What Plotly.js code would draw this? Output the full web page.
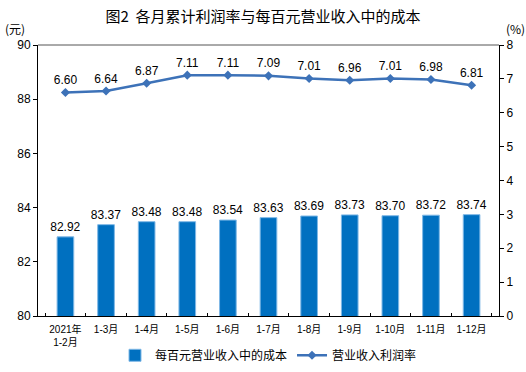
<!DOCTYPE html>
<html>
<head>
<meta charset="utf-8">
<script src="https://cdn.plot.ly/plotly-3.0.1.min.js"></script>
<style>
html,body{margin:0;padding:0;background:#fff;}
#chart{width:526px;height:372px;}
</style>
</head>
<body>
<div id="chart"></div>
<script>
const categories = ["2021年<br>1-2月","1-3月","1-4月","1-5月","1-6月","1-7月","1-8月","1-9月","1-10月","1-11月","1-12月"];
const costPerHundred = [82.92,83.37,83.48,83.48,83.54,83.63,83.69,83.73,83.70,83.72,83.74];
const profitRate = [6.60,6.64,6.87,7.11,7.11,7.09,7.01,6.96,7.01,6.98,6.81];
const leftTicks = [80,82,84,86,88,90];
const rightTicks = [0,1,2,3,4,5,6,7,8];

const FONT = "'Liberation Sans', 'Noto Sans CJK SC', sans-serif";
const CJK = "'Noto Sans CJK SC', sans-serif";

const traces = [
  {
    type: 'bar',
    name: '每百元营业收入中的成本',
    x: categories,
    y: costPerHundred,
    width: 0.41,
    marker: {color: '#0070C0', line: {color: '#7fb8e6', width: 1}},
    text: costPerHundred.map(v => v.toFixed(2)),
    textposition: 'outside',
    constraintext: 'none',
    cliponaxis: false,
    textfont: {size: 12, color: '#000', family: FONT},
    yaxis: 'y',
    hoverinfo: 'skip'
  },
  {
    type: 'scatter',
    mode: 'lines+markers+text',
    name: '营业收入利润率',
    x: categories,
    y: profitRate,
    line: {color: '#3d72b8', width: 2.5},
    marker: {symbol: 'diamond', size: 7, color: '#3d72b8'},
    text: profitRate.map(v => v.toFixed(2)),
    textposition: 'top center',
    textfont: {size: 12, color: '#000', family: FONT},
    cliponaxis: false,
    yaxis: 'y2',
    hoverinfo: 'skip'
  }
];

const layout = {
  width: 526,
  height: 372,
  margin: {l: 38, r: 27, t: 45, b: 56, autoexpand: false},
  paper_bgcolor: '#fff',
  plot_bgcolor: '#fff',
  font: {family: FONT, size: 12, color: '#000'},
  title: {
    text: '图2  各月累计利润率与每百元营业收入中的成本',
    font: {family: CJK, size: 15, color: '#000'},
    x: 0.5, xanchor: 'center', y: 0.955, yanchor: 'middle'
  },
  showlegend: true,
  legend: {
    orientation: 'h',
    x: 0.5, xanchor: 'center',
    y: -0.145, yanchor: 'middle',
    font: {family: CJK, size: 12},
    traceorder: 'normal',
    itemwidth: 30,
    tracegroupgap: 0
  },
  bargap: 0.59,
  xaxis: {
    type: 'category',
    automargin: false,
    showline: true,
    linecolor: '#000',
    linewidth: 1,
    ticks: 'inside',
    ticklen: 3,
    tickson: 'boundaries',
    tickcolor: '#000',
    tickangle: 0,
    ticklabelstandoff: 4,
    tickfont: {family: FONT, size: 10},
    showgrid: false,
    mirror: false,
    zeroline: false,
    fixedrange: true
  },
  yaxis: {
    range: [80, 90],
    tickvals: leftTicks,
    automargin: false,
    showline: true,
    linecolor: '#000',
    linewidth: 1,
    ticks: 'outside',
    ticklen: 4,
    tickcolor: '#000',
    showgrid: false,
    zeroline: false,
    tickfont: {size: 12}
  },
  yaxis2: {
    range: [0, 8],
    tickvals: rightTicks,
    automargin: false,
    overlaying: 'y',
    side: 'right',
    showline: true,
    linecolor: '#000',
    linewidth: 1,
    ticks: 'outside',
    ticklen: 4,
    tickcolor: '#000',
    showgrid: false,
    zeroline: false,
    tickfont: {size: 12}
  },
  shapes: [
    {type: 'line', xref: 'paper', yref: 'paper', x0: 0, x1: 1, y0: 1, y1: 1, line: {color: '#555', width: 1}}
  ],
  annotations: [
    {text: '(元)', xref: 'paper', yref: 'paper', x: -0.05, y: 1.06, xanchor: 'center', yanchor: 'middle', showarrow: false, font: {family: CJK, size: 12}},
    {text: '(%)', xref: 'paper', yref: 'paper', x: 1.035, y: 1.06, xanchor: 'center', yanchor: 'middle', showarrow: false, font: {family: CJK, size: 12}}
  ]
};

Plotly.newPlot('chart', traces, layout, {displayModeBar: false, staticPlot: true});
</script>
</body>
</html>
